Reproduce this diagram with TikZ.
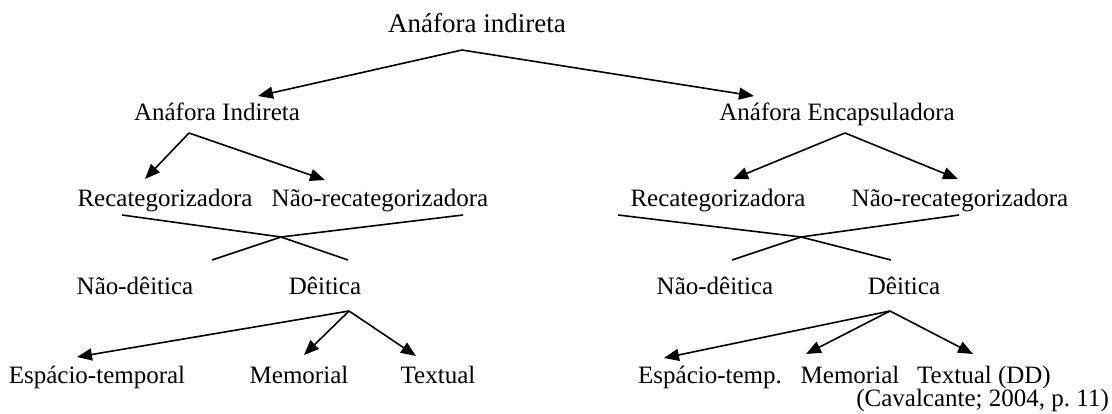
\documentclass[tikz,border=0pt]{standalone}
\usepackage{fontspec}
\setmainfont{Liberation Serif}
\usetikzlibrary{arrows.meta}
\begin{document}
\begin{tikzpicture}[x=1pt,y=-1pt,
  lbl/.style={anchor=base,inner sep=0pt,font=\fontsize{25}{30}\selectfont},
  toplbl/.style={anchor=base,inner sep=0pt,font=\fontsize{27}{32}\selectfont},
  arr/.style={line width=1.6pt,-{Triangle[length=15pt,width=12pt]}},
  ln/.style={line width=1.6pt,line join=miter}]
\useasboundingbox (0,0) rectangle (1112,414);
% nodes
\node[toplbl] (root) at (477,33) {Anáfora indireta};
\node[lbl] (AI) at (217,121) {Anáfora Indireta};
\node[lbl] (AE) at (837,121) {Anáfora Encapsuladora};
\node[lbl] (RL) at (165,207) {Recategorizadora};
\node[lbl] (NRL) at (380,207) {Não-recategorizadora};
\node[lbl] (RR) at (718,207) {Recategorizadora};
\node[lbl] (NRR) at (960,207) {Não-recategorizadora};
\node[lbl] (NDL) at (135,295) {Não-dêitica};
\node[lbl] (DL) at (325,295) {Dêitica};
\node[lbl] (NDR) at (715,295) {Não-dêitica};
\node[lbl] (DR) at (904,295) {Dêitica};
\node[lbl] (EL) at (97,383) {Espácio-temporal};
\node[lbl] (ML) at (299,383) {Memorial};
\node[lbl] (TL) at (438,383) {Textual};
\node[lbl] (ER) at (710,383) {Espácio-temp.};
\node[lbl] (MR) at (850,383) {Memorial};
\node[lbl] (TR) at (984,383) {Textual (DD)};
\node[lbl,anchor=base east] (cite) at (1109,406) {(Cavalcante; 2004, p.~11)};
% connector points
\coordinate (a0) at (462,50);
\coordinate (tAI) at (258,96);
\coordinate (tAE) at (754,96);
\coordinate (a1) at (189,133);
\coordinate (tRL) at (145,179);
\coordinate (tNRL) at (325,180);
\coordinate (a2) at (845,133);
\coordinate (tRR) at (733,179);
\coordinate (tNRR) at (958,179);
\coordinate (xLtl) at (122,215);
\coordinate (xLtr) at (463,215);
\coordinate (xL) at (281,237);
\coordinate (xLbl) at (212,260);
\coordinate (xLbr) at (348,260);
\coordinate (xRtl) at (618,215);
\coordinate (xRtr) at (959,215);
\coordinate (xR) at (801,237);
\coordinate (xRbl) at (732,260);
\coordinate (xRbr) at (891,260);
\coordinate (a3) at (349,311);
\coordinate (tEL) at (77,357);
\coordinate (tML) at (304,355);
\coordinate (tTL) at (416,356);
\coordinate (a4) at (890,311);
\coordinate (tER) at (664,358);
\coordinate (tMR) at (806,354);
\coordinate (tTR) at (973,354);
% connectors
\draw[arr] (a0) -- (tAI);
\draw[arr] (a0) -- (tAE);
\draw[arr] (a1) -- (tRL);
\draw[arr] (a1) -- (tNRL);
\draw[arr] (a2) -- (tRR);
\draw[arr] (a2) -- (tNRR);
\draw[ln] (xLtl) -- (xL) -- (xLbr);
\draw[ln] (xLtr) -- (xL) -- (xLbl);
\draw[ln] (xRtl) -- (xR) -- (xRbr);
\draw[ln] (xRtr) -- (xR) -- (xRbl);
\draw[arr] (a3) -- (tEL);
\draw[arr] (a3) -- (tML);
\draw[arr] (a3) -- (tTL);
\draw[arr] (a4) -- (tER);
\draw[arr] (a4) -- (tMR);
\draw[arr] (a4) -- (tTR);
\end{tikzpicture}
\end{document}
